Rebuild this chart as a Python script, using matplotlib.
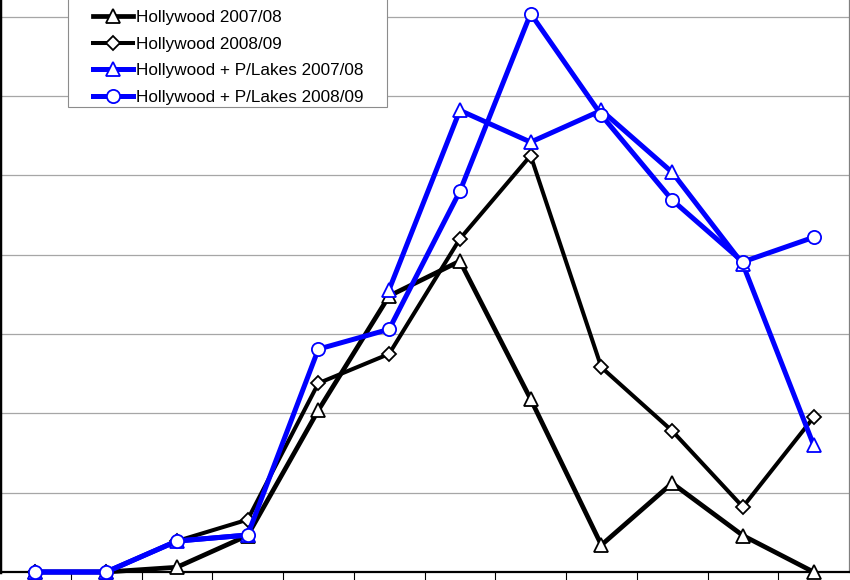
import numpy as np
import matplotlib.pyplot as plt
from matplotlib.patches import Rectangle

plt.rcParams['font.family'] = ['Liberation Sans', 'DejaVu Sans']

# ================== data (12 periods, units: 5 per gridline) ==================
periods = np.arange(12)
hollywood_0708 = [0, 0, 0.3, 2.3, 10.2, 17.4, 19.6, 10.9, 1.7, 5.6, 2.3, 0]
hollywood_0809 = [0, 0, 1.95, 3.3, 11.9, 13.75, 21.0, 26.25, 12.9, 8.9, 4.1, 9.75]
hw_plakes_0708 = [0, 0, 1.95, 2.33, np.nan, 17.8, 29.1, 27.1, 29.1, 25.2, 19.4, 8.0]
hw_plakes_0809 = [0, 0, 1.95, 2.33, 14.05, 15.3, 24.0, 35.2, 28.8, 23.45, 19.55, 21.1]

labels = ['Hollywood 2007/08', 'Hollywood 2008/09',
          'Hollywood + P/Lakes 2007/08', 'Hollywood + P/Lakes 2008/09']

series = [
    (hollywood_0708, 'black', '^', 10, 3.4),
    (hollywood_0809, 'black', 'D', 6.8, 2.9),
    (hw_plakes_0708, '#0000ff', '^', 10, 3.6),
    (hw_plakes_0809, '#0000ff', 'o', 9.5, 3.6),
]

fig = plt.figure(figsize=(8.5, 5.8), dpi=100)
# plot area runs past the top edge (the picture is cropped)
ax = fig.add_axes([0.0, 8 / 580, 849 / 850, 1.094])
ax.set_xlim(-0.5, 11.5)
ax.set_ylim(0, 40)

for y in range(5, 40, 5):
    ax.axhline(y, color='#a6a6a6', linewidth=0.9, zorder=1)

handles = []
for (vals, col, mk, ms, lw), lab in zip(series, labels):
    ln, = ax.plot(periods, vals, color=col, linewidth=lw, marker=mk, markersize=ms,
                  markerfacecolor='white', markeredgecolor=col, markeredgewidth=1.3,
                  clip_on=False, zorder=3, solid_joinstyle='miter')
    handles.append(ln)

# category axis: ticks between categories, no labels visible
ax.set_xticks(np.arange(0.5, 11, 1))
ax.set_xticklabels([])
ax.tick_params(axis='x', direction='out', length=6, width=0.8, color='black')
ax.set_yticks([])
ax.spines['top'].set_visible(False)
ax.spines['left'].set_linewidth(2.5)
ax.spines['bottom'].set_linewidth(1.6)
ax.spines['right'].set_color('#808080')
ax.spines['right'].set_linewidth(0.9)

# legend box
fig.patches.append(Rectangle((68 / 850, 1 - 107 / 580), 319 / 850, 0.2,
                             transform=fig.transFigure, facecolor='white',
                             edgecolor='#8c8c8c', linewidth=0.8, zorder=2))
fig.legend(handles, labels, loc='lower left', bbox_to_anchor=(93 / 850, 1 - 105 / 580),
           frameon=False, fontsize=12.3, handlelength=2.35, handletextpad=0.15,
           labelspacing=0.68, borderpad=0, borderaxespad=0)

fig.savefig('out.png', dpi=100)
